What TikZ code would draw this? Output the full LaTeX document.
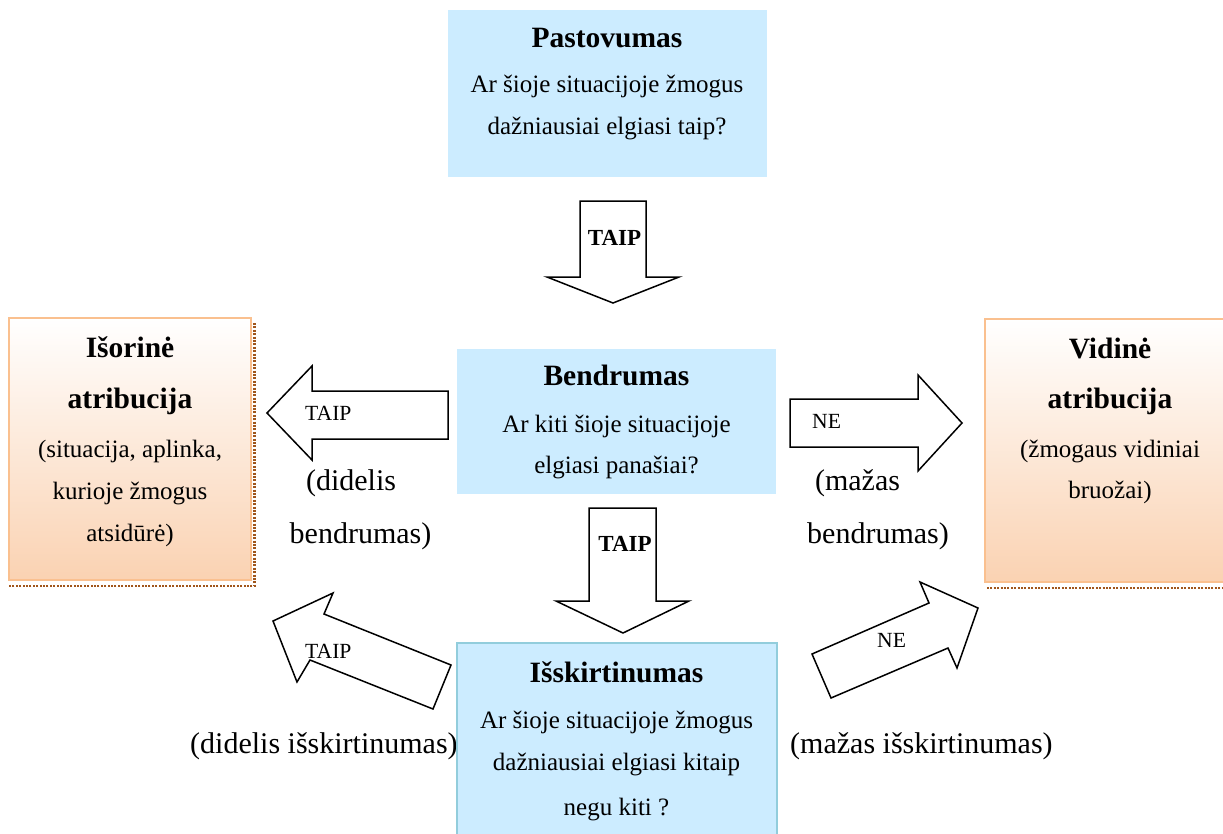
\documentclass[tikz,border=0pt]{standalone}
\usepackage{fontspec}
\setmainfont{Liberation Serif}
\usetikzlibrary{calc}
\definecolor{boxblue}{HTML}{CCECFF}
\definecolor{blueedge}{HTML}{92CDDC}
\definecolor{peach}{HTML}{FAD2B2}
\definecolor{peachedge}{HTML}{FAC08F}
\definecolor{shadowbrown}{HTML}{A0561C}
\tikzset{
  bluebox/.style={fill=boxblue, draw=none, inner sep=0, rectangle},
  orangebox/.style={rectangle, inner sep=0, draw=peachedge, line width=2pt, top color=white, bottom color=peach},
  shadowline/.style={draw=shadowbrown, line width=2.2pt, dash pattern=on 2pt off 1.4pt},
  txt/.style={font=\fontsize{25}{30}\selectfont, anchor=base, inner sep=0},
  ttl/.style={font=\bfseries\fontsize{29.5}{34}\selectfont, anchor=base, inner sep=0},
  bigtxt/.style={font=\fontsize{30}{36}\selectfont, anchor=base, inner sep=0},
  smalllbl/.style={font=\fontsize{21.6}{26}\selectfont, anchor=base west, inner sep=0},
  boldlbl/.style={font=\bfseries\fontsize{23}{28}\selectfont, anchor=base, inner sep=0},
  blockarrow/.style={draw=black, line width=1.5pt, fill=white, line join=miter}
}
\begin{document}
\begin{tikzpicture}[x=1pt,y=-1pt]
\clip (0,0) rectangle (1223,833);
\fill[white] (0,0) rectangle (1223,833);

% top box
\node[bluebox, minimum width=319pt, minimum height=167pt] (past) at (607.5,93.5) {};
\node[ttl] (pastT) at (607,47) {Pastovumas};
\node[txt] (pastL1) at (607,92) {Ar šioje situacijoje žmogus};
\node[txt] (pastL2) at (607,134) {dažniausiai elgiasi taip?};

% arrow 1 down
\coordinate (a1) at (613,201);
\draw[blockarrow] (580,201) -- (646,201) -- (646,277) -- (679,277) -- (613,303) -- (547,277) -- (580,277) -- cycle;
\node[boldlbl] (a1lbl) at (614.5,245) {TAIP};

% middle box
\node[bluebox, minimum width=319pt, minimum height=145pt] (bend) at (616.5,421.5) {};
\node[ttl] (bendT) at (616.5,385) {Bendrumas};
\node[txt] (bendL1) at (616.5,432) {Ar kiti šioje situacijoje};
\node[txt] (bendL2) at (616.5,473) {elgiasi panašiai?};

% arrow 2 down
\draw[blockarrow] (589,508) -- (656,508) -- (656,601) -- (689,601) -- (623,633) -- (556,601) -- (589,601) -- cycle;
\node[boldlbl] (a2lbl) at (625,551) {TAIP};

% left box with shadow
\node[orangebox, minimum width=242pt, minimum height=262pt] (isor) at (130,449) {};
\draw[shadowline] ($(isor.north east)+(2.5,6)$) -- ($(isor.south east)+(2.5,5)$) -- ($(isor.south west)+(1,5)$);
\node[ttl] (isorT1) at (130,357) {Išorinė};
\node[ttl] (isorT2) at (130,408) {atribucija};
\node[txt] (isorL1) at (130,457) {(situacija, aplinka,};
\node[txt] (isorL2) at (130,499) {kurioje žmogus};
\node[txt] (isorL3) at (130,541) {atsidūrė)};

% right box with shadow
\node[orangebox, minimum width=255pt, minimum height=263pt] (vid) at (1112.5,450.5) {};
\draw[shadowline] ($(vid.south west)+(3,5)$) -- ($(vid.south east)+(3,5)$);
\node[ttl] (vidT1) at (1110,358) {Vidinė};
\node[ttl] (vidT2) at (1110,408) {atribucija};
\node[txt] (vidL1) at (1110,457) {(žmogaus vidiniai};
\node[txt] (vidL2) at (1110,498) {bruožai)};

% left arrow
\draw[blockarrow] (448,391) -- (312,391) -- (312,366) -- (267,413) -- (312,460) -- (312,439) -- (448,439) -- cycle;
\node[smalllbl] (l1lbl) at (305,420) {TAIP};
\node[bigtxt] (l1a) at (351,490) {(didelis};
\node[bigtxt] (l1b) at (360.5,543) {bendrumas)};

% right arrow
\draw[blockarrow] (790,399) -- (918,399) -- (918,375) -- (962,423) -- (918,471) -- (918,447) -- (790,447) -- cycle;
\node[smalllbl] (r1lbl) at (812,428) {NE};
\node[bigtxt] (r1a) at (857.5,490) {(mažas};
\node[bigtxt] (r1b) at (878,543) {bendrumas)};

% bottom-left diagonal arrow
\draw[blockarrow] (451,665) -- (324,614) -- (333,593) -- (273,621) -- (297,682) -- (310,660) -- (433,709) -- cycle;
\node[smalllbl] (l2lbl) at (305,658) {TAIP};
\node[bigtxt, anchor=base west] (l2a) at (190,753) {(didelis išskirtinumas)};

% bottom-right diagonal arrow
\draw[blockarrow] (812,654) -- (929,603) -- (920,582) -- (978,608) -- (957,668) -- (948,648) -- (831,698) -- cycle;
\node[smalllbl] (r2lbl) at (877,647) {NE};
\node[bigtxt, anchor=base west] (r2a) at (790,753) {(mažas išskirtinumas)};

% bottom box
\node[bluebox, draw=blueedge, line width=2pt, minimum width=320pt, minimum height=207pt] (isk) at (617,746.5) {};
\node[ttl] (iskT) at (616.5,682) {Išskirtinumas};
\node[txt] (iskL1) at (616.5,728) {Ar šioje situacijoje žmogus};
\node[txt] (iskL2) at (616.5,770) {dažniausiai elgiasi kitaip};
\node[txt] (iskL3) at (616.5,815) {negu kiti ?};
\end{tikzpicture}
\end{document}
